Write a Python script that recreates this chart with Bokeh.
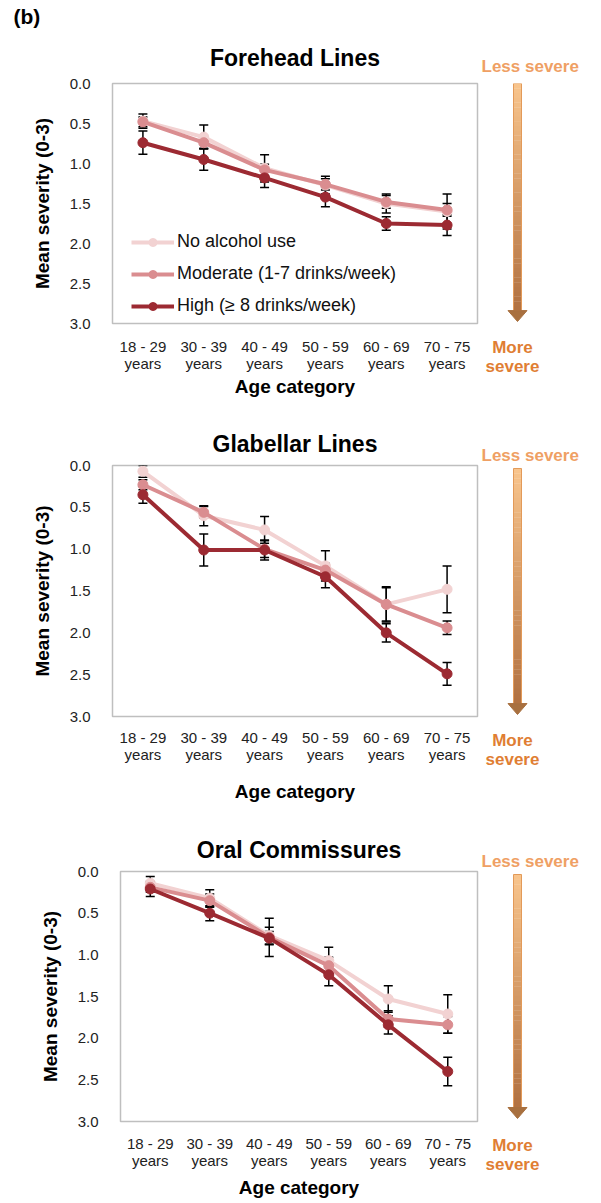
import numpy as np
from bokeh.plotting import figure
from bokeh.models import (ColumnDataSource, FactorRange, Range1d, FixedTicker, Whisker, TeeHead,
                          Legend, LegendItem, NumeralTickFormatter)
from bokeh.layouts import column, row
from bokeh.embed import file_html
from bokeh.resources import INLINE
from bokeh.core.properties import value

FONT = "Liberation Sans"

# ---------------- data ----------------
ages = ["18 - 29\nyears", "30 - 39\nyears", "40 - 49\nyears",
        "50 - 59\nyears", "60 - 69\nyears", "70 - 75\nyears"]
series_names = ["No alcohol use", "Moderate (1-7 drinks/week)", "High (\u2265 8 drinks/week)"]
series_colors = ["#F2D2D2", "#DA8D90", "#9C2A32"]
y_ticks = [0.0, 0.5, 1.0, 1.5, 2.0, 2.5, 3.0]

fh_none = [0.47, 0.67, 1.06, 1.27, 1.50, 1.60]
fh_mod = [0.48, 0.74, 1.08, 1.26, 1.48, 1.58]
fh_high = [0.74, 0.95, 1.18, 1.42, 1.75, 1.77]
fh_none_err = [0.09, 0.15, 0.17, 0.11, 0.12, 0.22]
fh_mod_err = [0.06, 0.07, 0.07, 0.07, 0.08, 0.08]
fh_high_err = [0.145, 0.135, 0.12, 0.12, 0.085, 0.13]

gl_none = [0.07, 0.60, 0.77, 1.20, 1.66, 1.48]
gl_mod = [0.23, 0.56, 1.00, 1.25, 1.66, 1.94]
gl_high = [0.35, 1.01, 1.01, 1.33, 2.00, 2.49]
gl_none_err = [0.07, 0.12, 0.16, 0.18, 0.20, 0.28]
gl_mod_err = [0.06, 0.07, 0.10, 0.08, 0.21, 0.08]
gl_high_err = [0.10, 0.19, 0.12, 0.13, 0.11, 0.135]

oc_none = [0.14, 0.32, 0.77, 1.07, 1.53, 1.71]
oc_mod = [0.19, 0.35, 0.79, 1.13, 1.77, 1.84]
oc_high = [0.21, 0.50, 0.80, 1.24, 1.84, 2.40]
oc_none_err = [0.08, 0.10, 0.10, 0.16, 0.16, 0.23]
oc_mod_err = [0.06, 0.08, 0.23, 0.10, 0.10, 0.10]
oc_high_err = [0.09, 0.09, 0.08, 0.13, 0.11, 0.17]

STRIP_H = 29
MAIN_W = 479
FR = 477            # frame right edge (px)
SIDE_W = 601 - MAIN_W

panels = [
    dict(title="Forehead Lines", vals=[fh_none, fh_mod, fh_high],
         errs=[fh_none_err, fh_mod_err, fh_high_err],
         height=371, top=54, bottom=75, left=112, toff=8, tstand=26, xstand=1, legend=True,
         less_stand=15, arr_pad=(0, 2), xl_stand=8),
    dict(title="Glabellar Lines", vals=[gl_none, gl_mod, gl_high],
         errs=[gl_none_err, gl_mod_err, gl_high_err],
         height=405, top=65, bottom=88, left=112, toff=10, tstand=17, xstand=15, legend=False,
         less_stand=1, arr_pad=(3, 2), xl_stand=6),
    dict(title="Oral Commissures", vals=[oc_none, oc_mod, oc_high],
         errs=[oc_none_err, oc_mod_err, oc_high_err],
         height=398, top=66, bottom=82, left=120, toff=7, tstand=18, xstand=5, legend=False,
         less_stand=1, arr_pad=(3, 3), xl_stand=7),
]


def style_axis(ax):
    ax.axis_line_color = None
    ax.major_tick_line_color = None
    ax.minor_tick_line_color = None
    ax.major_label_text_font = FONT
    ax.major_label_text_color = "#222222"
    ax.axis_label_text_font = FONT
    ax.axis_label_text_font_style = "bold"
    ax.axis_label_text_font_size = "19px"
    ax.axis_label_text_color = "#000000"


def make_main(cfg):
    H, T, B, L = cfg["height"], cfg["top"], cfg["bottom"], cfg["left"]
    p = figure(width=MAIN_W, height=H, x_range=FactorRange(*ages),
               y_range=Range1d(3, 0), output_backend="svg", toolbar_location=None,
               min_border_left=L, min_border_right=MAIN_W - FR,
               min_border_top=T, min_border_bottom=B)
    p.title.text = cfg["title"]
    p.title.align = "center"
    p.title.offset = cfg["toff"]
    p.title.text_font = FONT
    p.title.text_font_size = "23px"
    p.title.text_font_style = "bold"
    p.title.text_color = "#000000"
    p.title.standoff = cfg["tstand"]
    p.outline_line_color = "#BFBFBF"
    p.outline_line_width = 1.5
    p.grid.visible = False
    style_axis(p.xaxis[0])
    style_axis(p.yaxis[0])
    p.yaxis.ticker = FixedTicker(ticks=y_ticks)
    p.yaxis.formatter = NumeralTickFormatter(format="0.0")
    p.yaxis.major_label_text_font_size = "15px"
    p.yaxis.major_label_standoff = 16
    p.yaxis.axis_label = "Mean severity (0-3)"
    p.yaxis.axis_label_standoff = 14
    p.xaxis.major_label_text_font_size = "15px"
    p.xaxis.major_label_text_line_height = 1.05
    p.xaxis.major_label_standoff = cfg["xl_stand"]
    p.xaxis.axis_label = "Age category"
    p.xaxis.axis_label_standoff = cfg["xstand"]

    items = []
    for name, col, vals, errs in zip(series_names, series_colors, cfg["vals"], cfg["errs"]):
        src = ColumnDataSource(dict(
            x=ages, y=vals,
            upper=[v - e for v, e in zip(vals, errs)],
            lower=[v + e for v, e in zip(vals, errs)]))
        lr = p.line("x", "y", source=src, line_color=col, line_width=4)
        sr = p.scatter("x", "y", source=src, size=10, fill_color=col, line_color=col)
        w = Whisker(source=src, base="x", upper="upper", lower="lower",
                    line_color="#000000", line_width=1.5,
                    upper_head=TeeHead(size=9, line_color="#000000", line_width=1.5),
                    lower_head=TeeHead(size=9, line_color="#000000", line_width=1.5))
        p.add_layout(w)
        items.append(LegendItem(label=name, renderers=[lr, sr]))
    if cfg["legend"]:
        leg = Legend(items=items, location=(19, 7), glyph_width=43, glyph_height=20,
                     label_height=20, spacing=11, padding=0, margin=0,
                     label_standoff=3, background_fill_alpha=0, border_line_color=None,
                     label_text_font=FONT, label_text_font_size="18px",
                     label_text_color="#111111")
        p.add_layout(leg)
    return p


def make_side(cfg):
    H, T, B = cfg["height"], cfg["top"], cfg["bottom"]
    fh = H - T - B  # frame height (aligned with the main figure's frame)
    s = figure(width=SIDE_W, height=H, x_range=Range1d(0, SIDE_W), y_range=Range1d(fh, 0),
               output_backend="svg", toolbar_location=None,
               min_border_left=0, min_border_right=0, min_border_top=T, min_border_bottom=B,
               outline_line_color=None)
    s.grid.visible = False
    s.yaxis.visible = False
    s.title.text = "Less severe"
    s.title.align = "left"
    s.title.offset = 2
    s.title.standoff = cfg["less_stand"]
    s.title.text_font = FONT
    s.title.text_font_size = "17px"
    s.title.text_font_style = "bold"
    s.title.text_color = "#EFA064"
    xa = s.xaxis[0]
    xa.axis_line_color = None
    xa.major_tick_line_color = None
    xa.minor_tick_line_color = None
    xa.ticker = FixedTicker(ticks=[33])
    xa.major_label_overrides = {33: "More\nsevere"}
    xa.major_label_text_align = "center"
    xa.major_label_text_font = FONT
    xa.major_label_text_font_size = "17px"
    xa.major_label_text_font_style = "bold"
    xa.major_label_text_line_height = 1.0
    xa.major_label_text_color = "#E07E33"
    xa.major_label_standoff = 8

    # gradient arrow
    cx = 38
    head_h = 11
    top = cfg["arr_pad"][0]
    tip = fh - cfg["arr_pad"][1]
    shaft_bot = tip - head_h
    n = 48
    edges = np.linspace(top, shaft_bot, n + 1)
    c0 = np.array([248, 196, 140])
    c1 = np.array([178, 114, 66])
    cols = []
    for i in range(n):
        t = i / (n - 1)
        c = (c0 * (1 - t) + c1 * t).astype(int)
        cols.append("#%02x%02x%02x" % tuple(c))
    s.quad(left=cx - 4, right=cx + 4, top=edges[:-1], bottom=edges[1:] + 0.3,
           fill_color=cols, line_color=None)
    s.quad(left=[cx - 4], right=[cx + 4], top=[top], bottom=[shaft_bot], fill_color=None,
           line_color="#E39A58", line_width=1)
    s.patch([cx - 9.5, cx + 9.5, cx], [shaft_bot, shaft_bot, tip],
            fill_color="#A8703F", line_color="#A8703F")
    return s


strip = figure(width=601, height=STRIP_H, x_range=Range1d(0, 601),
               y_range=Range1d(STRIP_H, 0), output_backend="svg", toolbar_location=None,
               min_border=0, outline_line_color=None)
strip.axis.visible = False
strip.grid.visible = False
strip.text(x=[13], y=[16], text=["(b)"], text_align="left", text_baseline="middle",
           text_font=value(FONT), text_font_style="bold", text_font_size="21px",
           text_color="#000000")

rows = [strip]
for cfg in panels:
    rows.append(row(make_main(cfg), make_side(cfg), spacing=0))
layout = column(*rows, spacing=0)

open("out.html", "w").write(file_html(layout, INLINE))
